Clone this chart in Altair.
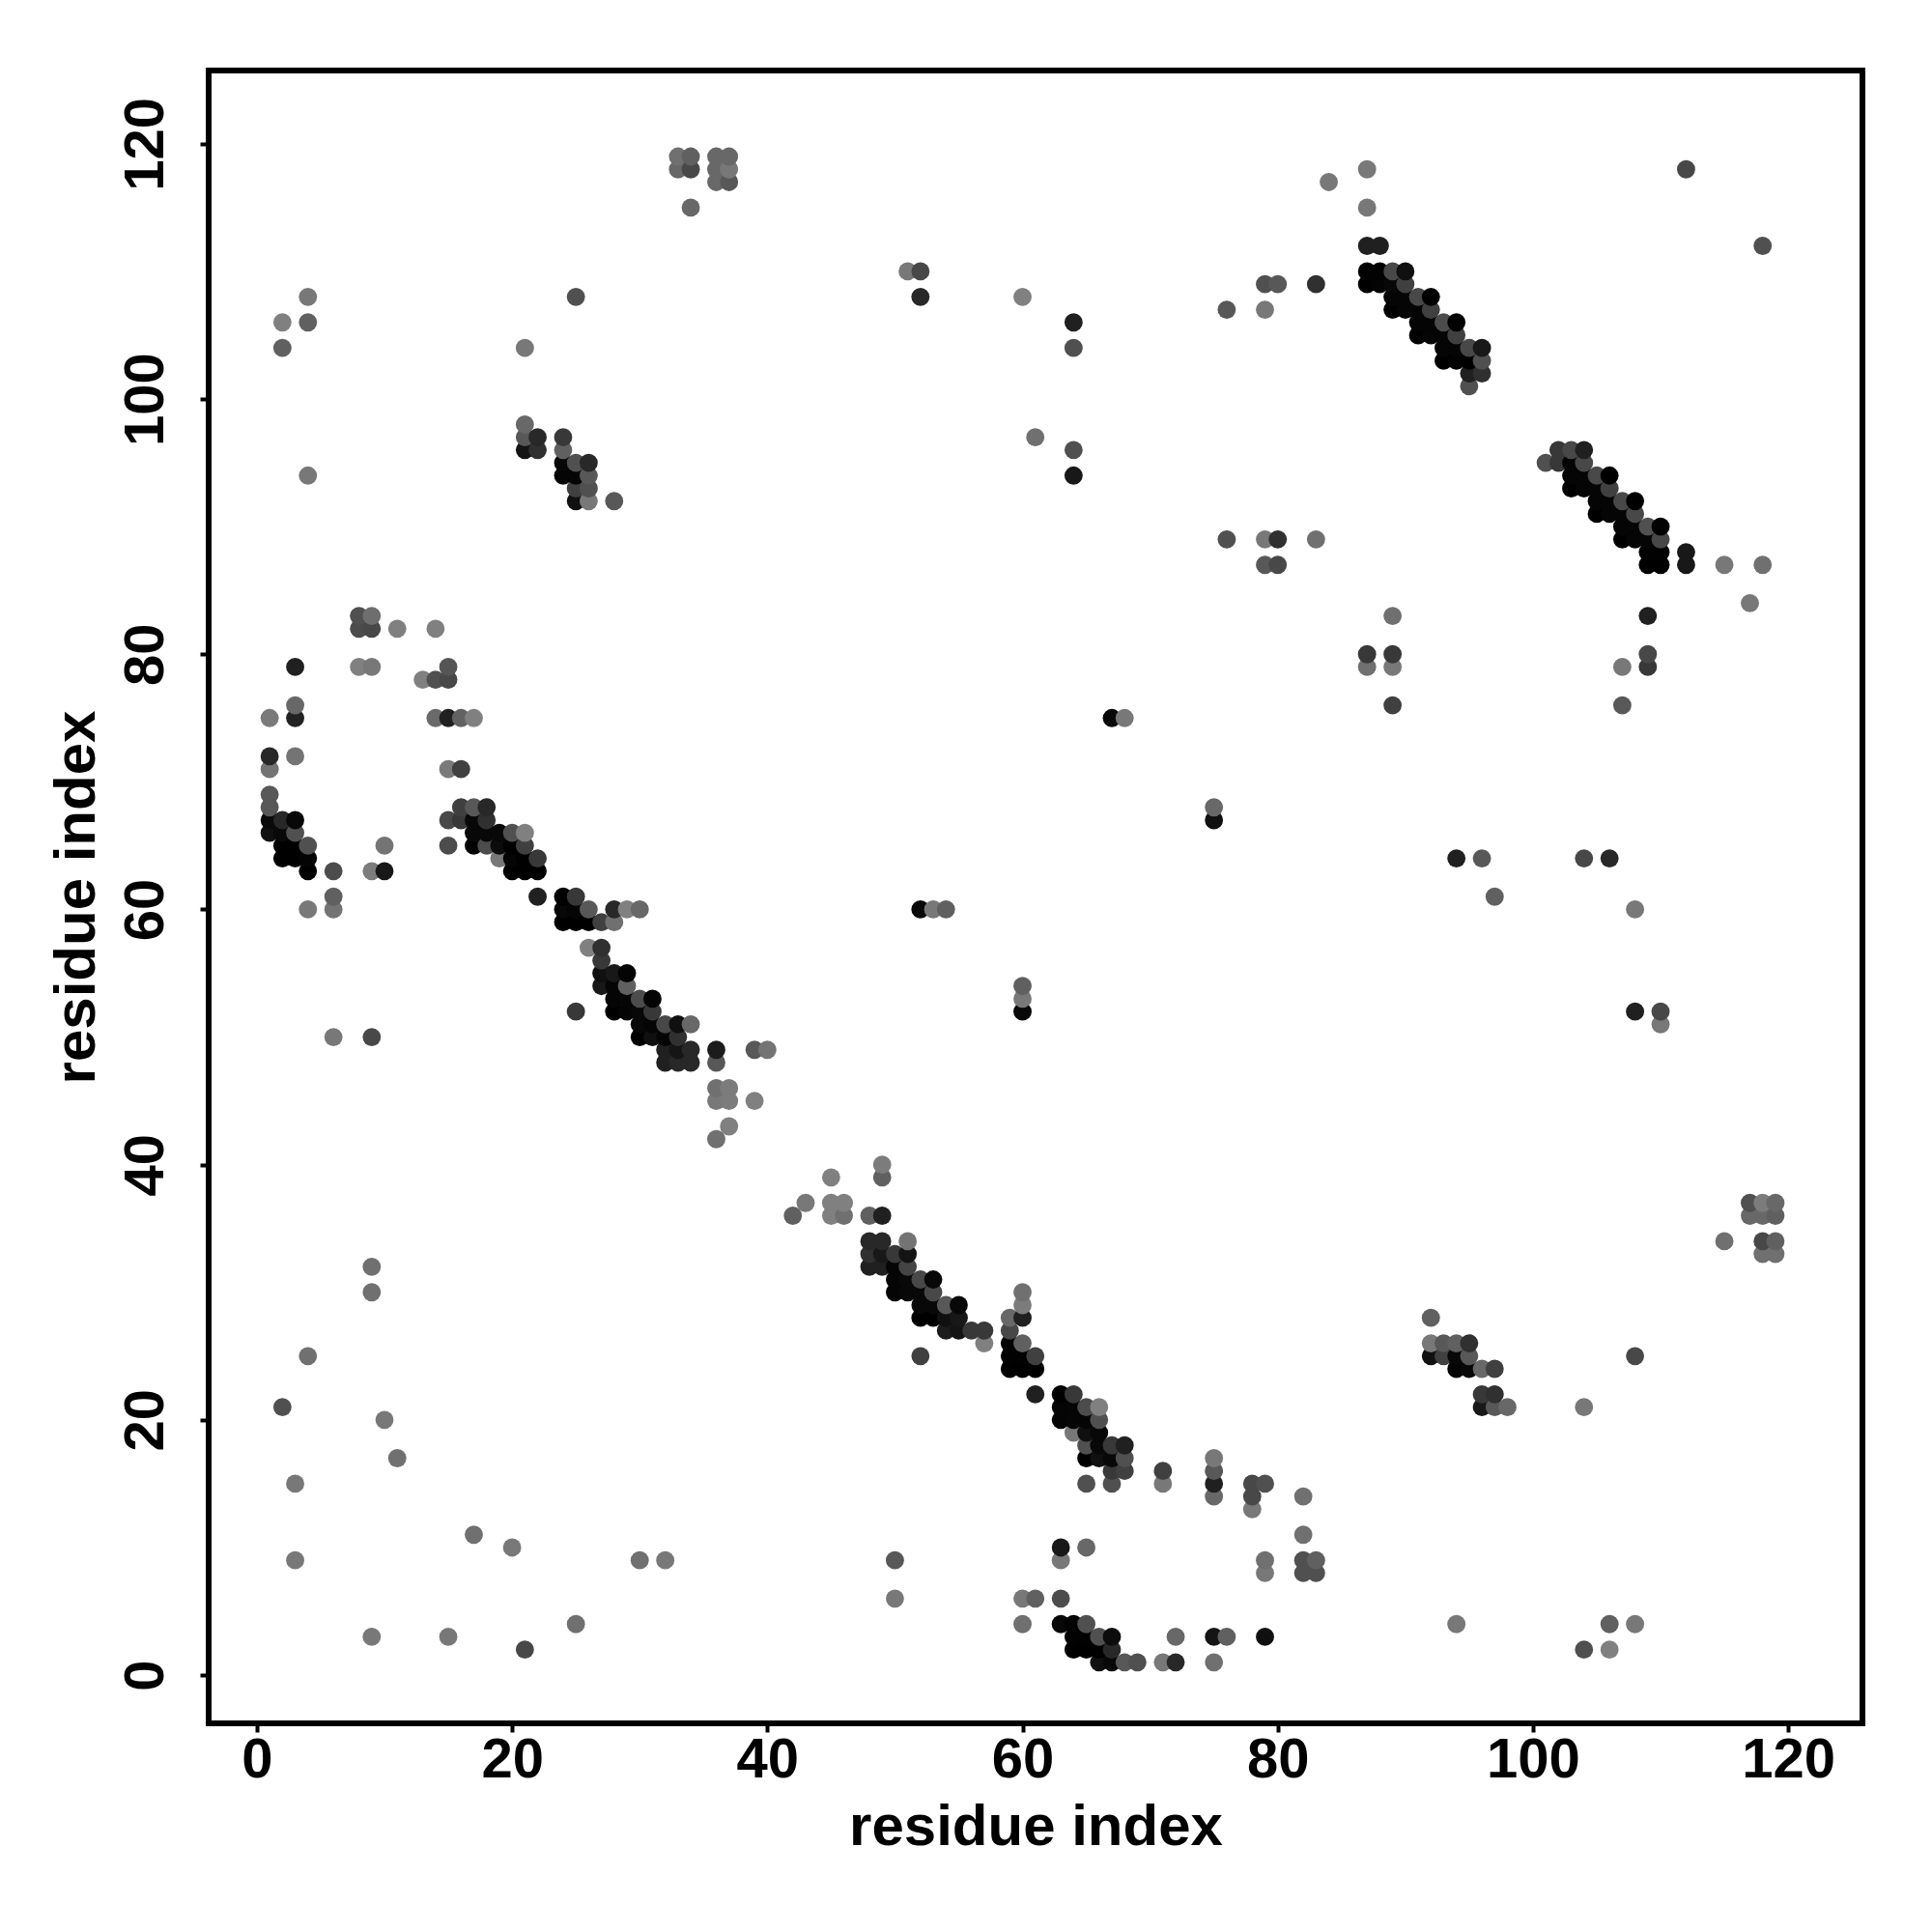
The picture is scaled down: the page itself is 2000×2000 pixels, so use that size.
import altair as alt
import pandas as pd

# each row: residue index on the y axis, then (x residue, grey level) pairs
rows_y = []
rows_x = []
rows_g = []


def row(y, *pairs):
    for x, g in pairs:
        rows_y.append(y)
        rows_x.append(x)
        rows_g.append(g)


row(119, (33, 0x70), (34, 0x60), (36, 0x68), (37, 0x68))
row(118, (33, 0x68), (34, 0x48), (36, 0x68), (37, 0x78), (87, 0x78), (112, 0x48))
row(117, (36, 0x68), (37, 0x58), (84, 0x78))
row(115, (34, 0x68), (87, 0x78))
row(112, (87, 0x20), (88, 0x20), (118, 0x50))
row(110, (51, 0x78), (52, 0x48), (87, 0x02), (88, 0x02), (89, 0x48), (90, 0x10))
row(109, (79, 0x50), (80, 0x58), (83, 0x30), (87, 0x00), (88, 0x04), (89, 0x08), (90, 0x40))
row(108, (4, 0x78), (25, 0x50), (52, 0x28), (60, 0x80), (89, 0x05), (90, 0x05), (91, 0x48), (92, 0x00))
row(107, (76, 0x58), (79, 0x78), (89, 0x00), (90, 0x05), (91, 0x05), (92, 0x40))
row(106, (2, 0x80), (4, 0x60), (64, 0x20), (91, 0x04), (92, 0x04), (93, 0x4c), (94, 0x00))
row(105, (91, 0x00), (92, 0x05), (93, 0x05), (94, 0x40))
row(104, (2, 0x60), (21, 0x78), (64, 0x50), (93, 0x05), (94, 0x05), (95, 0x48), (96, 0x18))
row(103, (93, 0x00), (94, 0x02), (95, 0x00), (96, 0x50))
row(102, (95, 0x20), (96, 0x30))
row(101, (95, 0x50))
row(98, (21, 0x68))
row(97, (21, 0x58), (22, 0x28), (24, 0x38), (61, 0x70))
row(96, (21, 0x14), (22, 0x30), (24, 0x60), (64, 0x50), (102, 0x38), (103, 0x48), (104, 0x20))
row(95, (24, 0x08), (25, 0x50), (26, 0x28), (101, 0x50), (102, 0x38), (103, 0x05), (104, 0x48))
row(94, (4, 0x78), (24, 0x05), (25, 0x05), (26, 0x58), (64, 0x18), (103, 0x05), (104, 0x05), (105, 0x48), (106, 0x00))
row(93, (25, 0x40), (26, 0x50), (103, 0x00), (104, 0x05), (105, 0x05), (106, 0x40))
row(92, (25, 0x10), (26, 0x78), (28, 0x58), (105, 0x05), (106, 0x05), (107, 0x48), (108, 0x00))
row(91, (105, 0x00), (106, 0x05), (107, 0x05), (108, 0x48))
row(90, (107, 0x05), (108, 0x05), (109, 0x50), (110, 0x02))
row(89, (76, 0x50), (79, 0x78), (80, 0x30), (83, 0x70), (107, 0x00), (108, 0x05), (109, 0x05), (110, 0x48))
row(88, (109, 0x02), (110, 0x02), (112, 0x18))
row(87, (79, 0x58), (80, 0x48), (109, 0x00), (110, 0x00), (112, 0x18), (115, 0x78), (118, 0x70))
row(84, (117, 0x78))
row(83, (8, 0x50), (9, 0x6e), (89, 0x70), (109, 0x20))
row(82, (8, 0x4c), (9, 0x48), (11, 0x80), (14, 0x80))
row(80, (87, 0x38), (89, 0x38), (109, 0x48))
row(79, (3, 0x20), (8, 0x80), (9, 0x78), (15, 0x55), (87, 0x70), (89, 0x78), (107, 0x78), (109, 0x38))
row(78, (13, 0x80), (14, 0x50), (15, 0x48))
row(76, (3, 0x68), (89, 0x40), (107, 0x58))
row(75, (1, 0x7a), (3, 0x22), (14, 0x6a), (15, 0x20), (16, 0x62), (17, 0x80), (67, 0x08), (68, 0x78))
row(72, (1, 0x28), (3, 0x74))
row(71, (1, 0x74), (15, 0x7a), (16, 0x40))
row(69, (1, 0x58))
row(68, (1, 0x58), (16, 0x40), (17, 0x58), (18, 0x28), (75, 0x68))
row(67, (1, 0x0a), (2, 0x28), (3, 0x08), (15, 0x48), (16, 0x38), (17, 0x08), (18, 0x30), (75, 0x10))
row(66, (1, 0x10), (2, 0x08), (3, 0x50), (17, 0x08), (18, 0x08), (19, 0x08), (20, 0x50), (21, 0x80))
row(65, (2, 0x00), (3, 0x00), (4, 0x50), (10, 0x74), (15, 0x4c), (17, 0x02), (18, 0x4c), (19, 0x0c), (20, 0x00), (21, 0x40))
row(64, (2, 0x00), (3, 0x00), (4, 0x04), (19, 0x78), (20, 0x05), (21, 0x00), (22, 0x38), (94, 0x20), (96, 0x58), (104, 0x48), (106, 0x28))
row(63, (4, 0x00), (6, 0x4c), (9, 0x7c), (10, 0x18), (20, 0x00), (21, 0x00), (22, 0x00))
row(61, (6, 0x60), (22, 0x20), (24, 0x00), (25, 0x38), (97, 0x60))
row(60, (4, 0x78), (6, 0x74), (24, 0x08), (25, 0x05), (26, 0x58), (28, 0x28), (29, 0x80), (30, 0x68), (52, 0x08), (53, 0x78), (54, 0x60), (108, 0x78))
row(59, (24, 0x00), (25, 0x00), (26, 0x00), (27, 0x40), (28, 0x70))
row(57, (26, 0x80), (27, 0x30))
row(56, (27, 0x38))
row(55, (27, 0x10), (28, 0x18), (29, 0x04))
row(54, (27, 0x18), (28, 0x05), (29, 0x60), (60, 0x60))
row(53, (28, 0x05), (29, 0x05), (30, 0x4c), (31, 0x04), (60, 0x78))
row(52, (25, 0x38), (28, 0x00), (29, 0x05), (30, 0x08), (31, 0x38), (60, 0x08), (108, 0x20), (110, 0x48))
row(51, (30, 0x08), (31, 0x05), (32, 0x48), (33, 0x10), (34, 0x68), (110, 0x78))
row(50, (6, 0x78), (9, 0x48), (30, 0x00), (31, 0x10), (32, 0x05), (33, 0x30))
row(49, (32, 0x20), (33, 0x15), (34, 0x28), (36, 0x1c), (39, 0x58), (40, 0x74))
row(48, (32, 0x20), (33, 0x28), (34, 0x28), (36, 0x58))
row(46, (36, 0x70), (37, 0x7c))
row(45, (36, 0x78), (37, 0x7c), (39, 0x80))
row(43, (37, 0x80))
row(42, (36, 0x70))
row(40, (49, 0x7c))
row(39, (45, 0x80), (49, 0x60))
row(37, (43, 0x78), (45, 0x80), (46, 0x80), (117, 0x50), (118, 0x7c), (119, 0x68))
row(36, (42, 0x60), (45, 0x80), (46, 0x70), (48, 0x60), (49, 0x20), (117, 0x68), (118, 0x68), (119, 0x60))
row(34, (48, 0x28), (49, 0x28), (51, 0x74), (115, 0x70), (118, 0x48), (119, 0x60))
row(33, (48, 0x30), (49, 0x18), (50, 0x38), (51, 0x14), (118, 0x70), (119, 0x70))
row(32, (9, 0x70), (48, 0x20), (49, 0x20), (50, 0x05), (51, 0x44))
row(31, (50, 0x05), (51, 0x08), (52, 0x48), (53, 0x08))
row(30, (9, 0x70), (50, 0x05), (51, 0x08), (52, 0x08), (53, 0x48), (60, 0x70))
row(29, (52, 0x08), (53, 0x08), (54, 0x58), (55, 0x08), (60, 0x7c))
row(28, (52, 0x00), (53, 0x00), (54, 0x10), (55, 0x18), (59, 0x68), (60, 0x20), (92, 0x60))
row(27, (54, 0x1c), (55, 0x14), (56, 0x38), (57, 0x38), (59, 0x48))
row(26, (57, 0x80), (59, 0x04), (60, 0x60), (92, 0x78), (93, 0x58), (94, 0x60), (95, 0x30))
row(25, (4, 0x70), (52, 0x40), (59, 0x02), (60, 0x02), (61, 0x40), (92, 0x10), (93, 0x40), (94, 0x08), (95, 0x58), (108, 0x48))
row(24, (59, 0x00), (60, 0x00), (61, 0x00), (94, 0x04), (95, 0x08), (96, 0x68), (97, 0x40))
row(22, (61, 0x20), (63, 0x00), (64, 0x38), (96, 0x38), (97, 0x30))
row(21, (2, 0x50), (63, 0x05), (64, 0x05), (65, 0x4c), (66, 0x80), (96, 0x18), (97, 0x58), (98, 0x68), (104, 0x78))
row(20, (10, 0x78), (63, 0x04), (64, 0x05), (65, 0x05), (66, 0x50))
row(19, (64, 0x78), (65, 0x10), (66, 0x08))
row(18, (65, 0x50), (66, 0x08), (67, 0x38), (68, 0x20))
row(17, (11, 0x70), (65, 0x00), (66, 0x10), (67, 0x08), (68, 0x50), (75, 0x78))
row(16, (67, 0x38), (68, 0x40), (71, 0x40), (75, 0x58))
row(15, (3, 0x78), (65, 0x50), (67, 0x50), (71, 0x78), (75, 0x20), (78, 0x48), (79, 0x50))
row(14, (75, 0x68), (78, 0x48), (82, 0x70))
row(13, (78, 0x78))
row(11, (17, 0x70), (82, 0x70))
row(10, (20, 0x78), (63, 0x18), (65, 0x68))
row(9, (3, 0x78), (30, 0x70), (32, 0x78), (50, 0x58), (63, 0x78), (79, 0x70), (82, 0x50), (83, 0x60))
row(8, (79, 0x78), (82, 0x50), (83, 0x50))
row(6, (50, 0x78), (60, 0x78), (61, 0x60), (63, 0x4c))
row(4, (25, 0x70), (60, 0x70), (63, 0x08), (64, 0x02), (65, 0x50), (94, 0x78), (106, 0x60), (108, 0x78))
row(3, (9, 0x78), (15, 0x78), (64, 0x02), (65, 0x02), (66, 0x50), (67, 0x0c), (72, 0x68), (75, 0x14), (76, 0x60), (79, 0x10))
row(2, (21, 0x48), (64, 0x00), (65, 0x00), (66, 0x00), (67, 0x28), (104, 0x50), (106, 0x80))
row(1, (66, 0x10), (67, 0x08), (68, 0x58), (69, 0x50), (71, 0x78), (72, 0x28), (75, 0x70))

tick_values = [0, 20, 40, 60, 80, 100, 120]
axis_title = "residue index"

df = pd.DataFrame({"x": rows_x, "y": rows_y, "g": rows_g})
df = df.sort_values(["x", "y"], kind="mergesort").reset_index(drop=True)
df["shade"] = ["#%02x%02x%02x" % (g, g, g) for g in df["g"]]

font = "Liberation Sans"

x_axis = alt.Axis(
    values=tick_values, grid=False, domain=False, title=axis_title,
    tickColor="black", tickWidth=4, tickSize=9,
    labelFont=font, labelFontWeight="bold", labelFontSize=58, labelColor="black",
    labelPadding=0, labelFlush=False, labelOverlap=False,
    titleFont=font, titleFontWeight="bold", titleFontSize=60, titleColor="black",
    titlePadding=11,
)
y_axis = alt.Axis(
    values=tick_values, grid=False, domain=False, title=axis_title,
    tickColor="black", tickWidth=4, tickSize=9,
    labelFont=font, labelFontWeight="bold", labelFontSize=58, labelColor="black",
    labelAngle=270, labelAlign="center", labelBaseline="bottom",
    labelPadding=27, labelFlush=False, labelOverlap=False,
    titleFont=font, titleFontWeight="bold", titleFontSize=60, titleColor="black",
    titlePadding=12,
)

chart = (
    alt.Chart(df)
    .mark_circle(size=355, opacity=1)
    .encode(
        x=alt.X("x:Q", scale=alt.Scale(domain=[-3.78, 125.82], nice=False, zero=False), axis=x_axis),
        y=alt.Y("y:Q", scale=alt.Scale(domain=[-3.78, 125.74], nice=False, zero=False), axis=y_axis),
        color=alt.Color("shade:N", scale=None),
    )
    .properties(
        width=1712,
        height=1711,
        autosize="none",
        padding={"left": 208, "top": 65, "right": 64, "bottom": 209},
        background="white",
    )
    .configure_view(stroke="black", strokeWidth=6, fill="white")
)

chart.save("out.html", embed_options={"renderer": "svg", "actions": False})
